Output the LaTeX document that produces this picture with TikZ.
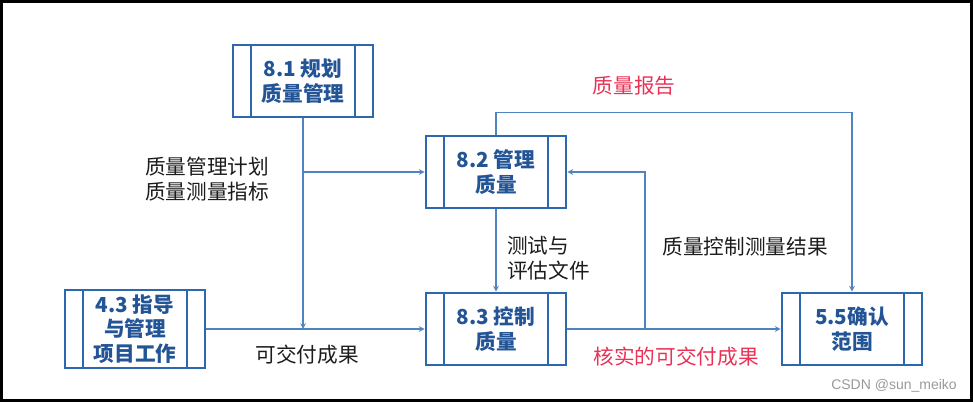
\documentclass[tikz,border=0pt]{standalone}
\usepackage{fontspec}
\setmainfont{Noto Sans CJK SC}
\newfontfamily\wmfont{Liberation Sans}
\usepackage{tikz}
\usetikzlibrary{
    arrows.meta,
    positioning,
    calc
}
\usepackage{xcolor}
\definecolor{procblue}{RGB}{44,104,176}
\definecolor{proctext}{RGB}{34,84,150}
\definecolor{lineblue}{RGB}{80,132,192}
\definecolor{labelred}{RGB}{232,50,86}
\definecolor{labelgray}{RGB}{28,28,28}
\tikzstyle{process} = [
    rectangle,
    draw=procblue,
    line width=2.2pt,
    fill=white,
    minimum width=105pt,
    minimum height=54pt,
    align=center,
    text=proctext,
    font=\fontsize{15.5pt}{18.5pt}\selectfont\bfseries,
    path picture={
        \draw[procblue, line width=2.2pt]
            ([xshift=13.5pt]path picture bounding box.north west) -- ([xshift=13.5pt]path picture bounding box.south west)
            ([xshift=-13.5pt]path picture bounding box.north east) -- ([xshift=-13.5pt]path picture bounding box.south east);
    }
]
\tikzstyle{flowlabel} = [
    align=center,
    inner sep=0pt,
    text=labelgray,
    font=\fontsize{15.5pt}{18.8pt}\selectfont
]
\tikzstyle{redlabel} = [
    flowlabel,
    text=labelred
]
\tikzstyle{arrow} = [
    ->,
    >=stealth,
    line width=0.9pt,
    draw=lineblue
]

\begin{document}
\begin{tikzpicture}[x=0.75pt, y=-0.75pt]
        \useasboundingbox (0,0) rectangle (973,402);
        \draw[black, line width=2.3pt] (1.5,1.5) rectangle (971.5,400.5);

        % 8.1 (top left)
        \node[process] (plan) at (303,81) {8.1 规划\\质量管理};

        % 8.2 (middle)
        \node[process] (manage) at (496,172) {8.2 管理\\质量};

        % 4.3, 8.3, 5.5 (bottom row)
        \node[process] (direct) at (135,329) {4.3 指导\\与管理\\项目工作};
        \node[process] (control) at (496,329) {8.3 控制\\质量};
        \node[process] (validate) at (852,329) {5.5确认\\范围};

        % Junctions
        \coordinate (joinlow) at (plan.south |- direct.east);
        \coordinate (joinmid) at (plan.south |- manage.west);
        \coordinate (joinright) at (645,329);

        % Connectors
        \draw[arrow] (plan.south) -- (joinlow);
        \draw[arrow] (joinmid) -- (manage.west);
        \draw[arrow] (direct.east) -- (control.west);
        \draw[arrow] (manage.south) -- (control.north);
        \draw[arrow] (control.east) -- (validate.west);
        \draw[arrow] (joinright) |- (manage.east);
        \draw[arrow] (manage.north) -- ++(0,-22) -| (validate.north);

        % Labels
        \node[flowlabel] (plandocs) at (207,179) {质量管理计划\\质量测量指标};
        \node[flowlabel] (deliver) at (307,355) {可交付成果};
        \node[flowlabel, align=left, anchor=west] (testdocs) at (507,258) {测试与\\评估文件};
        \node[flowlabel] (measures) at (745,247) {质量控制测量结果};
        \node[redlabel] (report) at (634,86) {质量报告};
        \node[redlabel] (verified) at (676,357) {核实的可交付成果};

        % Watermark
        \node[text=black!40, font=\wmfont\fontsize{10.5pt}{12pt}\selectfont, inner sep=0pt] (mark) at (894,386) {CSDN @sun\_meiko};
    \end{tikzpicture}
\end{document}
